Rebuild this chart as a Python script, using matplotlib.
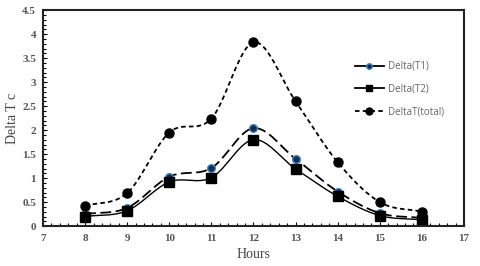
import matplotlib
matplotlib.use("Agg")
import matplotlib.pyplot as plt
from matplotlib.lines import Line2D
from matplotlib.ticker import MultipleLocator, FuncFormatter
import numpy as np

hours = [8, 9, 10, 11, 12, 13, 14, 15, 16]
delta_t1 = [0.25, 0.38, 1.03, 1.21, 2.04, 1.40, 0.72, 0.27, 0.17]
delta_t2 = [0.20, 0.32, 0.92, 1.01, 1.80, 1.19, 0.62, 0.22, 0.13]
delta_total = [0.42, 0.69, 1.95, 2.24, 3.83, 2.60, 1.33, 0.50, 0.30]


def smooth(xs, ys, n=30):
    # catmull-rom, like excel "smoothed line"
    x = np.array(xs, float)
    y = np.array(ys, float)
    x = np.concatenate([[2 * x[0] - x[1]], x, [2 * x[-1] - x[-2]]])
    y = np.concatenate([[2 * y[0] - y[1]], y, [2 * y[-1] - y[-2]]])
    ox, oy = [], []
    t = np.linspace(0, 1, n)
    for i in range(1, len(x) - 2):
        for arr, out in ((x, ox), (y, oy)):
            p0, p1, p2, p3 = arr[i - 1], arr[i], arr[i + 1], arr[i + 2]
            out.extend(0.5 * (2 * p1 + (-p0 + p2) * t
                              + (2 * p0 - 5 * p1 + 4 * p2 - p3) * t ** 2
                              + (-p0 + 3 * p1 - 3 * p2 + p3) * t ** 3))
    return ox, oy


fig = plt.figure(figsize=(4.8, 2.66), dpi=100)
ax = fig.add_axes([0.0896, 0.150, 0.877, 0.812])

sx, sy = smooth(hours, delta_t1)
ax.plot(sx, sy, color='black', lw=1.3, dashes=(6, 2.5))
ax.plot(hours, delta_t1, 'o', ms=5.5, mfc='#1a2a4a', mec='#3b82c4', mew=1, ls='none')

sx, sy = smooth(hours, delta_t2)
ax.plot(sx, sy, color='black', lw=1.0)
ax.plot(hours, delta_t2, 's', ms=6.5, color='black', ls='none')

sx, sy = smooth(hours, delta_total)
ax.plot(sx, sy, color='black', lw=1.3, dashes=(2.5, 1.8))
ax.plot(hours, delta_total, 'o', ms=6.5, color='black', ls='none')

ax.set_xlim(7, 17)
ax.set_ylim(0, 4.5)
ax.xaxis.set_major_locator(MultipleLocator(1))
ax.xaxis.set_minor_locator(MultipleLocator(0.2))
ax.yaxis.set_major_locator(MultipleLocator(0.5))
ax.yaxis.set_minor_locator(MultipleLocator(0.1))
ax.yaxis.set_major_formatter(FuncFormatter(lambda v, p: '%g' % v))
ax.tick_params(which='both', direction='in', top=False, right=False, labelsize=8,
               labelcolor='#555555', width=0.8)
ax.tick_params(which='major', length=3)
ax.tick_params(axis='x', which='major', pad=6)
ax.tick_params(axis='y', which='major', pad=5)
ax.tick_params(which='minor', length=2)
for lab in ax.get_xticklabels() + ax.get_yticklabels():
    lab.set_fontfamily('Liberation Serif')
    lab.set_fontweight('bold')
for s in ax.spines.values():
    s.set_linewidth(1.5)
    s.set_color('#222222')

ax.set_xlabel('Hours', family='Liberation Serif', fontsize=10, color='#444444', labelpad=3)
ax.set_ylabel('Delta T c', family='Liberation Serif', fontsize=10, color='#444444', labelpad=2)

handles = [
    Line2D([], [], color='black', lw=1.3, marker='o', ms=4, mfc='#1a2a4a', mec='#3b82c4'),
    Line2D([], [], color='black', lw=1.3, marker='s', ms=5),
    Line2D([], [], color='black', lw=1.3, dashes=(2.5, 1.8), marker='o', ms=5),
]
leg = ax.legend(handles, ['Delta(T1)', 'Delta(T2)', 'DeltaT(total)'],
                loc='upper left', bbox_to_anchor=(0.72, 0.805), frameon=False,
                prop={'family': 'Open Sans', 'size': 7}, handlelength=3.0,
                labelspacing=1.2, handletextpad=0.4)
for t in leg.get_texts():
    t.set_color('#666666')

fig.savefig('out.png', dpi=100)
